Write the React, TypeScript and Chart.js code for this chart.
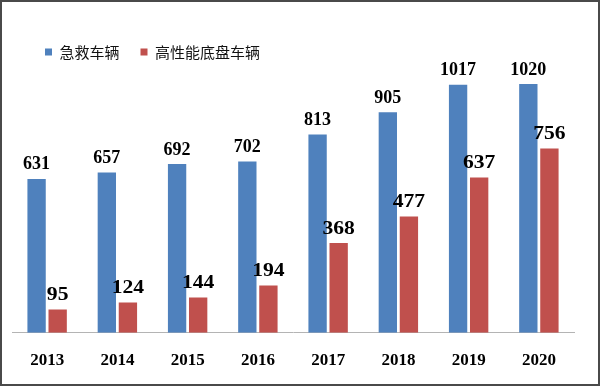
import React, { useEffect, useRef } from "react";
import { Chart, registerables } from "chart.js";

Chart.register(...registerables);

const categories = ["2013", "2014", "2015", "2016", "2017", "2018", "2019", "2020"];
const emergencyVehicles = [631, 657, 692, 702, 813, 905, 1017, 1020];
const chassisVehicles = [95, 124, 144, 194, 368, 477, 637, 756];
const seriesNames = ["急救车辆", "高性能底盘车辆"];
const seriesColors = ["#4F81BD", "#C0504D"];

const valueLabels = {
  id: "valueLabels",
  afterDatasetsDraw(chart: any) {
    const ctx = chart.ctx;
    chart.data.datasets.forEach((ds: any, di: number) => {
      const meta = chart.getDatasetMeta(di);
      meta.data.forEach((bar: any, i: number) => {
        const v = ds.data[i];
        ctx.save();
        ctx.fillStyle = "#000";
        ctx.textAlign = "center";
        ctx.textBaseline = "alphabetic";
        ctx.font = 'bold 18px "Liberation Serif", "Times New Roman", serif';
        ctx.translate(bar.x, bar.y - 9.5);
        if (di === 1) ctx.scale(1.2, 1);
        ctx.fillText(String(v), 0, 0);
        ctx.restore();
      });
    });
  },
};

const legendShift = {
  id: "legendShift",
  afterLayout(chart: any) {
    const l = chart.legend;
    if (l) {
      l.left += 12;
      l.right += 12;
    }
  },
};

export default function App() {
  const canvasRef = useRef<HTMLCanvasElement | null>(null);

  useEffect(() => {
    document.body.style.margin = "0";
    const canvas = canvasRef.current;
    if (!canvas) return;
    const chart = new Chart(canvas, {
      type: "bar",
      data: {
        labels: categories,
        datasets: [
          {
            label: seriesNames[0],
            data: emergencyVehicles,
            backgroundColor: seriesColors[0],
            categoryPercentage: 0.6,
            barPercentage: 0.87,
          },
          {
            label: seriesNames[1],
            data: chassisVehicles,
            backgroundColor: seriesColors[1],
            categoryPercentage: 0.6,
            barPercentage: 0.87,
          },
        ],
      },
      options: {
        animation: false,
        responsive: false,
        maintainAspectRatio: false,
        layout: { padding: { top: 23.5, left: 12, right: 26, bottom: 0 } },
        plugins: {
          tooltip: { enabled: false },
          legend: {
            display: true,
            position: "top",
            align: "start",
            labels: {
              boxWidth: 7,
              boxHeight: 7,
              padding: 21,
              color: "#111",
              font: { family: '"Noto Sans CJK SC", sans-serif', size: 15 },
            },
          },
        },
        scales: {
          x: {
            grid: { display: false, drawTicks: false },
            border: { display: true, color: "#b4b4b4", width: 1 },
            ticks: {
              color: "#000",
              padding: 18,
              font: { family: '"Liberation Serif", "Times New Roman", serif', size: 17, weight: "bold" },
            },
            afterFit(scale: any) {
              scale.height = 53.3;
            },
          },
          y: {
            display: false,
            min: 0,
            max: 1080,
          },
        },
      },
      plugins: [valueLabels, legendShift],
    });
    return () => chart.destroy();
  }, []);

  return (
    <div style={{ position: "relative", width: 600, height: 386, background: "#fff" }}>
      <canvas ref={canvasRef} width={600} height={386} style={{ display: "block" }} />
      <div
        style={{
          position: "absolute",
          left: 0,
          top: 0,
          width: 600,
          height: 386,
          boxSizing: "border-box",
          border: "2px solid #4a4a4a",
          pointerEvents: "none",
        }}
      />
    </div>
  );
}
